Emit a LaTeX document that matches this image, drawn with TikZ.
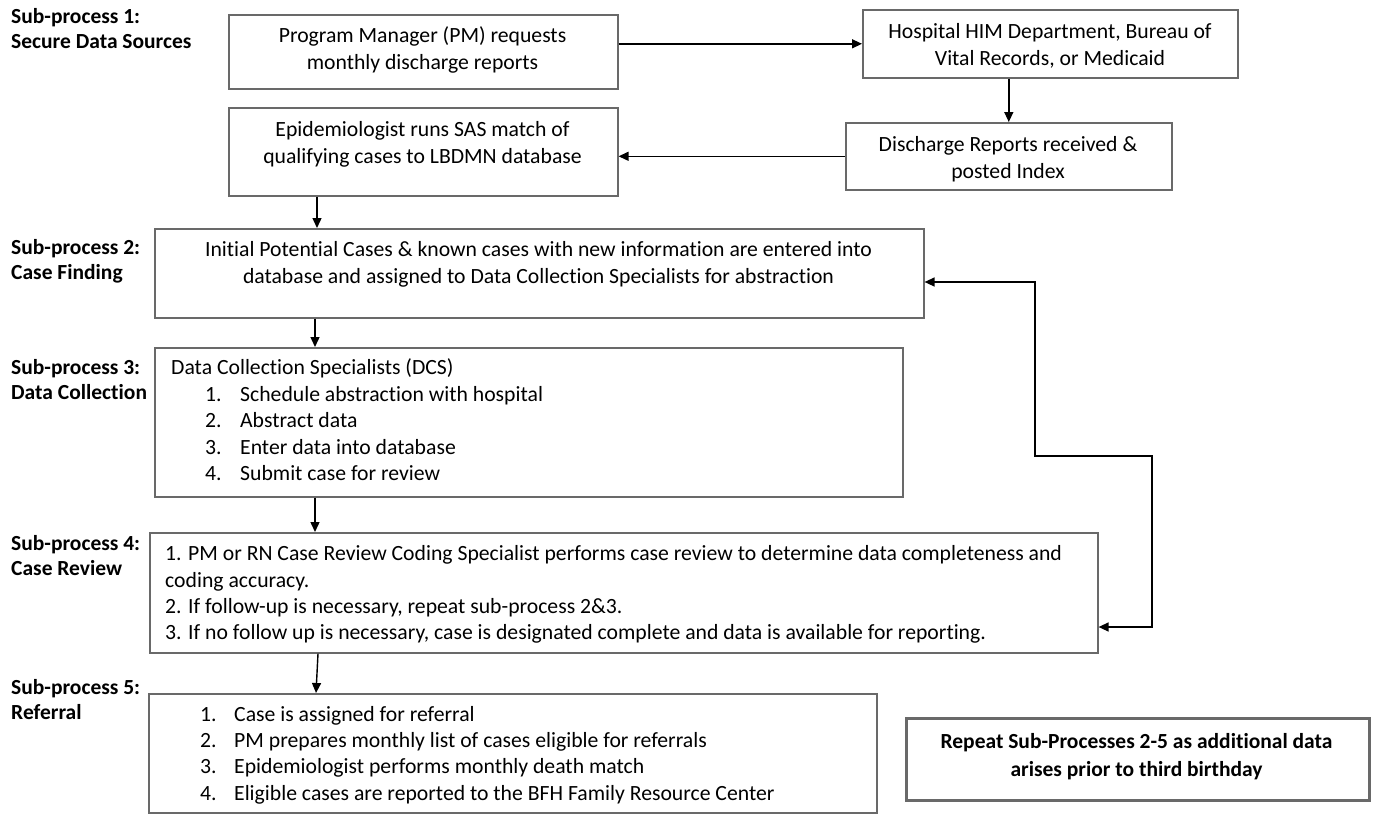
\documentclass[tikz,border=0pt]{standalone}
\usepackage{fontspec}
\setmainfont{Carlito}[Ligatures=NoCommon]
\usetikzlibrary{arrows.meta,calc}
\definecolor{boxgray}{RGB}{105,105,105}
\tikzset{
  box/.style={draw=boxgray, line width=1.6pt, anchor=north west, inner sep=0pt},
  thickbox/.style={box, line width=2.8pt},
  txt/.style={inner sep=0pt, font=\fontsize{21.7}{27}\selectfont, align=center},
  ltxt/.style={inner sep=0pt, anchor=west, font=\fontsize{21.7}{26.4}\selectfont, align=left},
  lbl/.style={inner sep=0pt, anchor=west, font=\fontsize{21.5}{25}\selectfont\bfseries, align=left},
  arr/.style={line width=1.4pt, -{Triangle[length=10pt,width=9pt]}},
  darr/.style={line width=1.4pt, {Triangle[length=10pt,width=9pt]}-{Triangle[length=10pt,width=9pt]}},
}
\begin{document}
\begin{tikzpicture}[x=1pt,y=-1pt]
\useasboundingbox (0,0) rectangle (1377,814);

% sub-process labels
\node[lbl] (l1) at (11,30.5) {Sub-process 1:\strut\\Secure Data Sources\strut};
\node[lbl] (l2) at (11,261.5) {Sub-process 2:\strut\\Case Finding\strut};
\node[lbl] (l3) at (11,381.5) {Sub-process 3:\strut\\Data Collection\strut};
\node[lbl] (l4) at (11,557.5) {Sub-process 4:\strut\\Case Review\strut};
\node[lbl] (l5) at (11,701.5) {Sub-process 5:\strut\\Referral\strut};

% boxes
\node[box, minimum width=389pt, minimum height=74pt] (pm) at (228,14) {};
\node[box, minimum width=375pt, minimum height=68pt] (hosp) at (862,9) {};
\node[box, minimum width=326pt, minimum height=67pt] (dis) at (845,122) {};
\node[box, minimum width=389pt, minimum height=88pt] (epi) at (228,107) {};
\node[box, minimum width=769pt, minimum height=89pt] (cf) at (154,228) {};
\node[box, minimum width=748pt, minimum height=149pt] (dc) at (154,347) {};
\node[box, minimum width=948pt, minimum height=120pt] (rev) at (149,532) {};
\node[box, minimum width=728pt, minimum height=119pt] (ref) at (148,693) {};
\node[thickbox, minimum width=463pt, minimum height=82pt] (rep) at (905,717) {};

% box texts
\node[txt] (pmt) at (422.5,51) {Program Manager (PM) requests\strut\\monthly discharge reports\strut};
\node[txt] (hospt) at (1050,47) {Hospital HIM Department, Bureau of\strut\\Vital Records, or Medicaid\strut};
\node[txt] (dist) at (1008,160) {Discharge Reports received \&\strut\\posted Index\strut};
\node[txt] (epit) at (422.5,144.5) {Epidemiologist runs SAS match of\strut\\qualifying cases to LBDMN database\strut};
\node[txt] (cft) at (538.5,265) {Initial Potential Cases \& known cases with new information are entered into\strut\\database and assigned to Data Collection Specialists for abstraction\strut};
\node[ltxt] (dct) at (171,422.5) {Data Collection Specialists (DCS)\strut\\
\hspace*{34pt}\makebox[35pt][l]{1.}Schedule abstraction with hospital\strut\\
\hspace*{34pt}\makebox[35pt][l]{2.}Abstract data\strut\\
\hspace*{34pt}\makebox[35pt][l]{3.}Enter data into database\strut\\
\hspace*{34pt}\makebox[35pt][l]{4.}Submit case for review\strut};
\node[ltxt] (revt) at (165,595) {1. PM or RN Case Review Coding Specialist performs case review to determine data completeness and\strut\\
coding accuracy.\strut\\
2. If follow-up is necessary, repeat sub-process 2\&3.\strut\\
3. If no follow up is necessary, case is designated complete and data is available for reporting.\strut};
\node[ltxt] (reft) at (200,755.5) {\makebox[34pt][l]{1.}Case is assigned for referral\strut\\
\makebox[34pt][l]{2.}PM prepares monthly list of cases eligible for referrals\strut\\
\makebox[34pt][l]{3.}Epidemiologist performs monthly death match\strut\\
\makebox[34pt][l]{4.}Eligible cases are reported to the BFH Family Resource Center\strut};
\node[txt, font=\fontsize{21.5}{28}\selectfont\bfseries] (rept) at (1136.5,757) {Repeat Sub-Processes 2-5 as additional data\strut\\arises prior to third birthday\strut};

% connectors
\draw[arr] (pm.east |- hosp.west) -- (hosp.west);
\draw[arr] (hosp.south -| dis.north) -- (dis.north);
\draw[arr] (dis.west) -- (dis.west -| epi.east);
\draw[arr] ([xshift=89pt]epi.south west) -- ([xshift=89pt]epi.south west |- cf.north);
\draw[arr] ([xshift=161pt]cf.south west) -- ([xshift=161pt]cf.south west |- dc.north);
\draw[arr] ([xshift=161pt]dc.south west) -- ([xshift=161pt]dc.south west |- rev.north);
\draw[arr] ([xshift=169pt]rev.south west) -- ([xshift=168pt]ref.north west);

\coordinate (fbA) at (1152,627);
\coordinate (fbB) at (1152,456);
\coordinate (fbC) at (1035,456);
\coordinate (fbD) at (1035,282);
\draw[darr] (fbA -| rev.east) -- (fbA) -- (fbB) -- (fbC) -- (fbD) -- (fbD -| cf.east);
\end{tikzpicture}
\end{document}
